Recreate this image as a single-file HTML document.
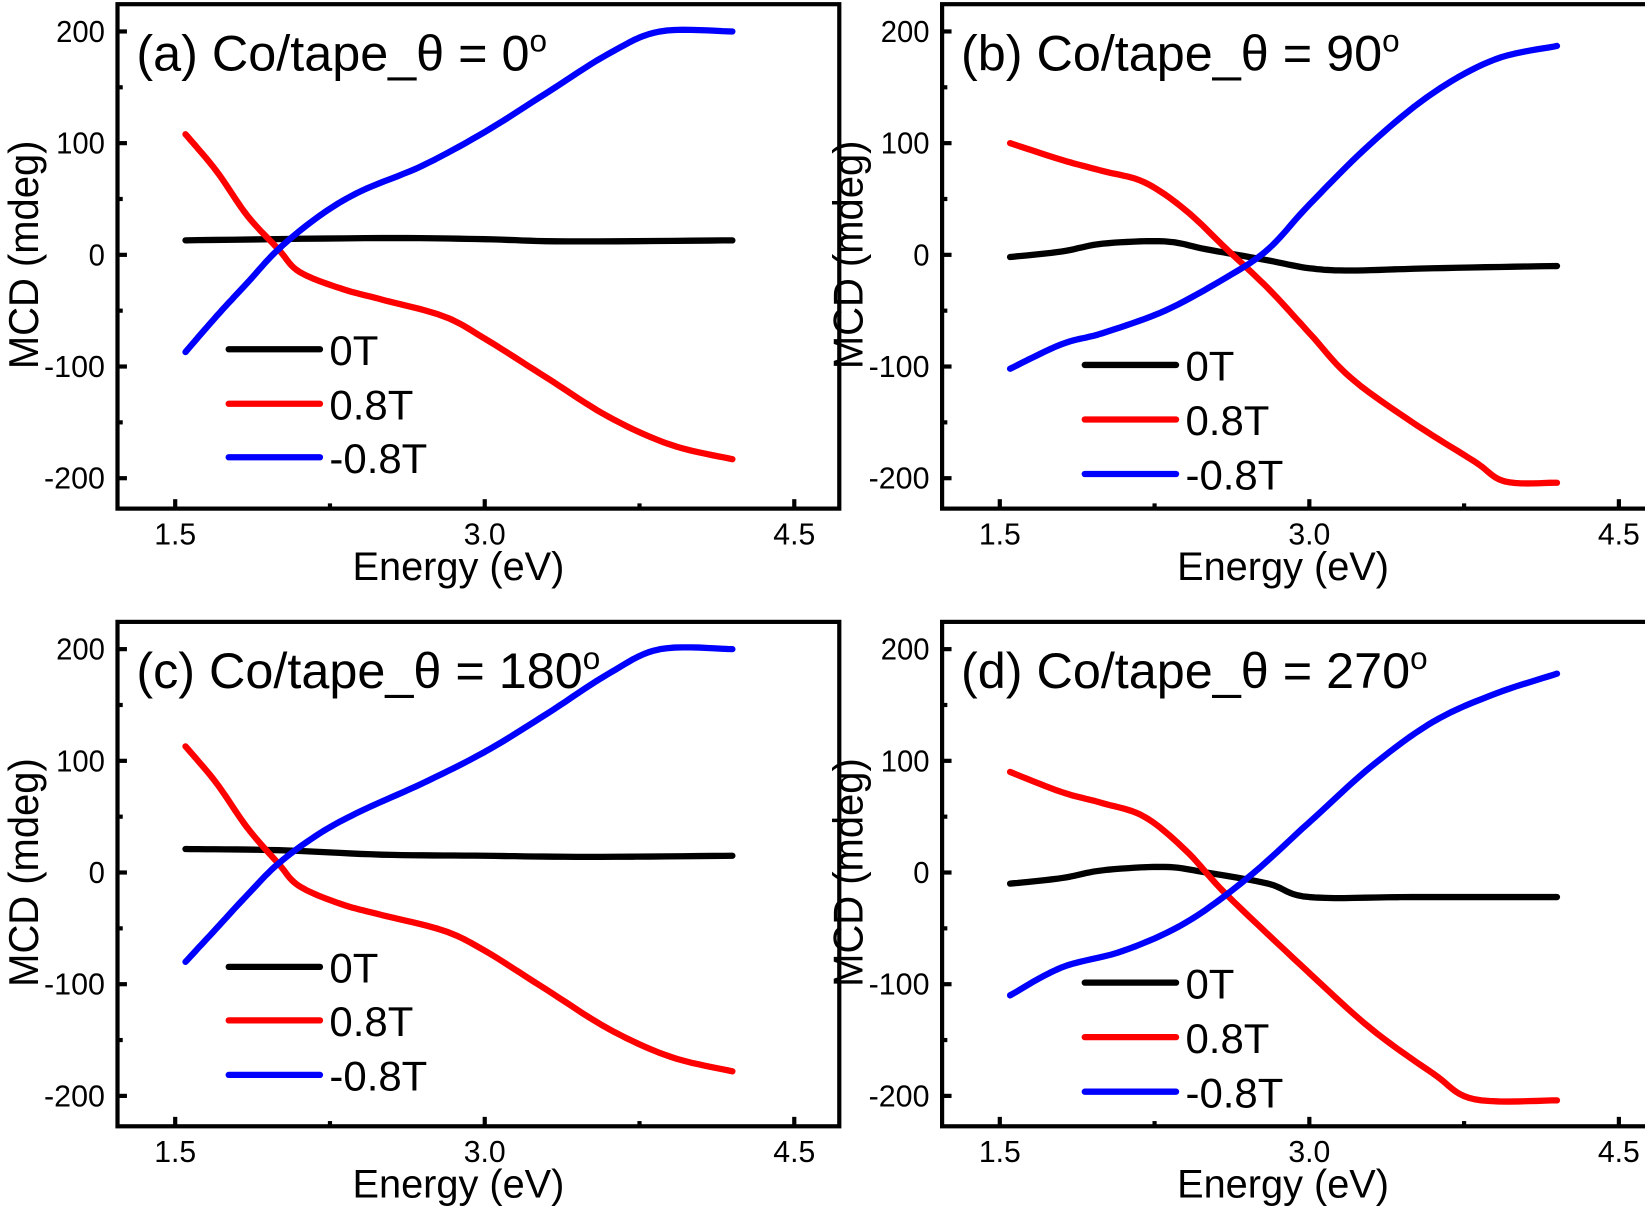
<!DOCTYPE html>
<html><head><meta charset="utf-8"><style>
html,body{margin:0;padding:0;background:#fff;}
svg{display:block;}
text{font-family:"Liberation Sans",sans-serif;}
</style></head><body>
<svg id="s" width="1645" height="1206" viewBox="0 0 1568 1150" preserveAspectRatio="none" xmlns="http://www.w3.org/2000/svg"></svg>
<script>
const S=document.getElementById('s');let h='';
const panels=[
{fx:112,fy:4,x0:167,y0:243,title:'(a) Co/tape_θ = 0',leg:[333,385,436],lx:218,
 k:[[1.55,13],[2.5,15],[3.0,14],[3.4,12],[4.2,13]],
 r:[[1.55,108],[1.7,75],[1.85,35],[2.0,5],[2.1,-15],[2.3,-30],[2.5,-40],[2.8,-55],[3.0,-75],[3.3,-110],[3.6,-145],[3.9,-170],[4.2,-183]],
 b:[[1.55,-87],[1.7,-55],[1.85,-25],[2.0,5],[2.2,35],[2.4,57],[2.7,80],[3.0,110],[3.3,145],[3.6,180],[3.85,200],[4.2,200]]},
{fx:898,fy:4,x0:953,y0:243,title:'(b) Co/tape_θ = 90',leg:[348,400,452],lx:1034,
 k:[[1.55,-2],[1.8,3],[2.0,10],[2.3,12],[2.5,5],[2.8,-5],[3.0,-12],[3.2,-14],[3.6,-12],[4.2,-10]],
 r:[[1.55,100],[1.8,85],[2.0,75],[2.2,65],[2.4,40],[2.6,5],[2.8,-30],[3.0,-70],[3.2,-110],[3.5,-150],[3.8,-185],[3.95,-203],[4.2,-204]],
 b:[[1.55,-102],[1.8,-80],[2.0,-70],[2.3,-50],[2.6,-20],[2.8,5],[3.0,45],[3.3,100],[3.6,145],[3.9,175],[4.2,187]]},
{fx:112,fy:593,x0:167,y0:832,title:'(c) Co/tape_θ = 180',leg:[922,973,1025],lx:218,
 k:[[1.55,21],[2.0,20],[2.5,16],[3.0,15],[3.5,14],[4.2,15]],
 r:[[1.55,113],[1.7,80],[1.85,40],[2.0,8],[2.1,-12],[2.3,-28],[2.5,-38],[2.8,-52],[3.0,-70],[3.3,-105],[3.6,-140],[3.9,-165],[4.2,-178]],
 b:[[1.55,-80],[1.7,-50],[1.85,-20],[2.0,8],[2.2,35],[2.4,55],[2.7,80],[3.0,108],[3.3,142],[3.6,178],[3.85,200],[4.2,200]]},
{fx:898,fy:593,x0:953,y0:832,title:'(d) Co/tape_θ = 270',leg:[937,989,1041],lx:1034,
 k:[[1.55,-10],[1.8,-5],[2.0,2],[2.3,5],[2.5,0],[2.8,-10],[3.0,-22],[3.5,-22],[4.2,-22]],
 r:[[1.55,90],[1.8,72],[2.0,62],[2.2,50],[2.4,20],[2.6,-20],[3.0,-90],[3.3,-140],[3.6,-180],[3.8,-203],[4.2,-204]],
 b:[[1.55,-110],[1.8,-85],[2.1,-70],[2.4,-45],[2.7,-5],[3.0,45],[3.3,95],[3.6,135],[3.9,160],[4.2,178]]}
];
const sx=196.7,sy=1.065;
for(const p of panels){
 const X=e=>p.x0+(e-1.5)*sx, Y=v=>p.y0-v*sy;
 const fw=688,fh=481;
 h+=`<rect x="${p.fx}" y="${p.fy}" width="${fw}" height="${fh}" fill="none" stroke="#000" stroke-width="4"/>`;
 const by=p.fy+fh;
 for(let i=0;i<=4;i++){const e=1.5+i*0.75;const x=X(e);h+=`<line x1="${x}" y1="${by}" x2="${x}" y2="${by-(i%2?5:9)}" stroke="#000" stroke-width="4"/>`;}
 for(const e of [1.5,3.0,4.5]){const s=e.toFixed(1);h+=`<text x="${X(e)}" y="${by+34}" font-size="29" text-anchor="middle" textLength="40" lengthAdjust="spacingAndGlyphs">${s}</text>`;}
 for(let v=-200;v<=200;v+=50){const y=Y(v);h+=`<line x1="${p.fx}" y1="${y}" x2="${p.fx+(v%100?5:9)}" y2="${y}" stroke="#000" stroke-width="4"/>`;}
 for(const v of [-200,-100,0,100,200]){const s=String(v);const w=v<0?58:s.length*15.5;h+=`<text x="${p.fx-12}" y="${Y(v)+10}" font-size="29" text-anchor="end" textLength="${w}" lengthAdjust="spacingAndGlyphs">${s}</text>`;}
 h+=`<text x="${p.fx+325}" y="${by+68}" font-size="38" text-anchor="middle" textLength="202" lengthAdjust="spacingAndGlyphs">Energy (eV)</text>`;
 h+=`<text transform="translate(${p.fx-76},${p.y0}) rotate(-90)" font-size="40" text-anchor="middle" textLength="218" lengthAdjust="spacingAndGlyphs">MCD (mdeg)</text>`;
 h+=`<text x="${p.fx+18}" y="${p.fy+63}" font-size="48">${p.title}<tspan dy="-18" font-size="30">o</tspan></text>`;
 const cols=['#000','#f00','#00f'];
 [p.k,p.r,p.b].forEach((d,i)=>{
  let pts=[];for(let j=0;j<d.length-1;j++){const [a,va]=d[j],[b,vb]=d[j+1];
   const pa=d[Math.max(0,j-1)],pb=d[Math.min(d.length-1,j+2)];
   for(let t=0;t<1;t+=0.1){
    const t2=t*t,t3=t2*t;
    const f=(p0,p1,p2,p3)=>0.5*((2*p1)+(-p0+p2)*t+(2*p0-5*p1+4*p2-p3)*t2+(-p0+3*p1-3*p2+p3)*t3);
    pts.push([f(pa[0],a,b,pb[0]),f(pa[1],va,vb,pb[1])]);}}
  pts.push(d[d.length-1]);
  h+=`<polyline points="${pts.map(q=>X(q[0]).toFixed(1)+','+Y(q[1]).toFixed(1)).join(' ')}" fill="none" stroke="${cols[i]}" stroke-width="6" stroke-linejoin="round" stroke-linecap="round"/>`;
 });
 ['0T','0.8T','-0.8T'].forEach((l,i)=>{const y=p.leg[i];
  h+=`<line x1="${p.lx}" y1="${y}" x2="${p.lx+87}" y2="${y}" stroke="${cols[i]}" stroke-width="6" stroke-linecap="round"/>`;
  h+=`<text x="${p.lx+96}" y="${y+15}" font-size="40">${l}</text>`;});
}
S.innerHTML=h;
</script>
</body></html>
